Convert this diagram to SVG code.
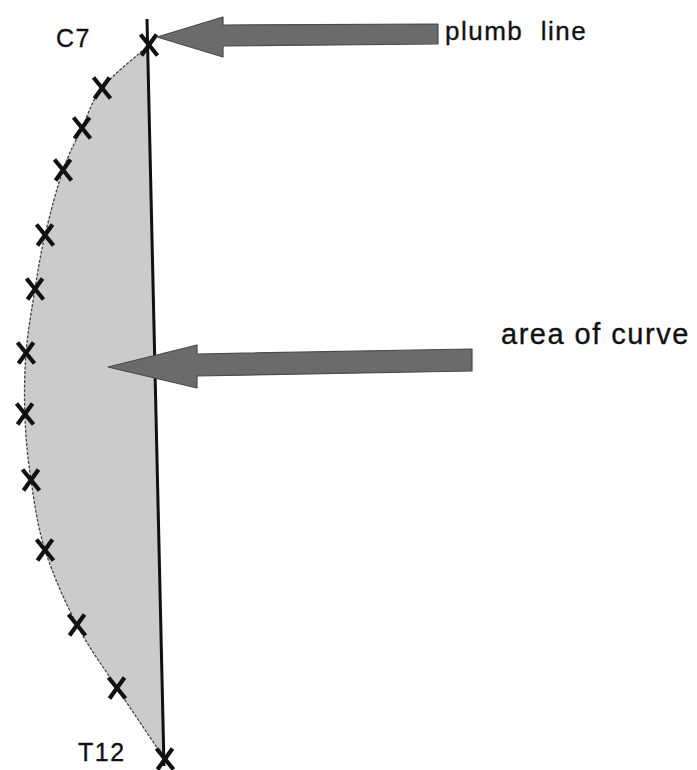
<svg xmlns="http://www.w3.org/2000/svg" width="697" height="770" viewBox="0 0 697 770">
<style>
.lbl{font-family:"Liberation Sans",Arial,sans-serif;fill:#111;stroke:#111;stroke-width:0.35;letter-spacing:1.5px}
.arrow{fill:#6b6b6b;stroke:#4a4a4a;stroke-width:1.2;stroke-linejoin:round}
.xm{stroke:#111;stroke-width:4.2;fill:none}
</style>
<defs>
<path id="xmark" class="xm" d="M-8.5,-10.5 L8.5,10.5 M7.5,-10.5 L-7.5,10.5"/>
</defs>
<rect width="697" height="770" fill="#ffffff"/>
<g id="curve-area">
<path d="M149,45 C141.2,52.2 113.2,74.2 102,88 C90.8,101.8 88.5,114.3 82,128 C75.5,141.7 69.2,152.2 63,170 C56.8,187.8 49.7,215.2 45,235 C40.3,254.8 38.2,269.3 35,289 C31.8,308.7 27.7,331.5 26,353 C24.3,374.5 24.2,396.8 25,418 C25.8,439.2 27.7,458 31,480 C34.3,502 37.3,525.8 45,550 C52.7,574.2 65,602 77,625 C89,648 102.5,665.8 117,688 C131.5,710.2 156.2,746.3 164,758 L147.6,45 Z" fill="#cbcbcb" stroke="none"/>
<path d="M149,45 C141.2,52.2 113.2,74.2 102,88 C90.8,101.8 88.5,114.3 82,128 C75.5,141.7 69.2,152.2 63,170 C56.8,187.8 49.7,215.2 45,235 C40.3,254.8 38.2,269.3 35,289 C31.8,308.7 27.7,331.5 26,353 C24.3,374.5 24.2,396.8 25,418 C25.8,439.2 27.7,458 31,480 C34.3,502 37.3,525.8 45,550 C52.7,574.2 65,602 77,625 C89,648 102.5,665.8 117,688 C131.5,710.2 156.2,746.3 164,758" fill="none" stroke="#444" stroke-width="1.3" stroke-dasharray="3 1.5"/>
</g>
<g id="plumb-line">
<line x1="147" y1="19" x2="164" y2="766" stroke="#111" stroke-width="3"/>
</g>
<g id="marks">
<use href="#xmark" x="149" y="45"/>
<use href="#xmark" x="102" y="88"/>
<use href="#xmark" x="82" y="128"/>
<use href="#xmark" x="63" y="170"/>
<use href="#xmark" x="45" y="235"/>
<use href="#xmark" x="35" y="289"/>
<use href="#xmark" x="26" y="353"/>
<use href="#xmark" x="25" y="414"/>
<use href="#xmark" x="31" y="480"/>
<use href="#xmark" x="45" y="550"/>
<use href="#xmark" x="77" y="625"/>
<use href="#xmark" x="117" y="688"/>
<use href="#xmark" x="165" y="759"/>
</g>
<g id="connectors">
<polygon class="arrow" points="157,37 223,17 223,25 438,24 438,44 223,46 223,57"/>
<polygon class="arrow" points="108,367 197,345 197,354 472,349 472,371 197,376 197,388"/>
</g>
<g id="labels">
<text class="lbl" x="56" y="47" font-size="25">C7</text>
<text class="lbl" x="445" y="40" font-size="26" xml:space="preserve">plumb  line</text>
<text class="lbl" x="501" y="344" font-size="29">area of curve</text>
<text class="lbl" x="78" y="761" font-size="25">T12</text>
</g>
</svg>
